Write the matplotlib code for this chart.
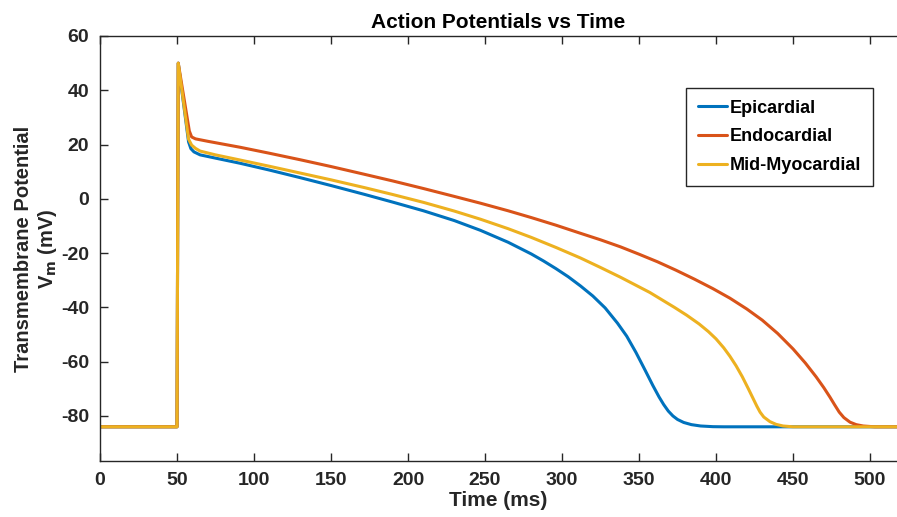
import numpy as np
import matplotlib
matplotlib.use("Agg")
import matplotlib.pyplot as plt

plt.rcParams['font.family'] = ['Liberation Sans', 'DejaVu Sans']
plt.rcParams['font.weight'] = 'bold'
plt.rcParams['axes.unicode_minus'] = False

#%% data (time in ms, potential in mV)
t_epi = [0, 50, 50.8, 57.5, 59, 61, 65, 75, 91, 110, 130, 150, 172, 190, 210, 230,
         247, 265, 280, 288, 296, 304, 312, 320, 328, 336, 342, 348, 354, 359, 363,
         366, 369, 372, 375, 379, 384, 390, 398, 405, 520]
v_epi = [-84, -84, 50, 21, 18.5, 17.3, 16.2, 15.0, 13.1, 10.6, 7.8, 4.9, 1.6, -1.2,
         -4.4, -8.0, -11.6, -16.0, -20.3, -22.9, -25.7, -28.7, -32.1, -35.8, -40.2,
         -45.8, -50.6, -56.6, -63.2, -68.8, -73.0, -75.8, -78.2, -80.0, -81.3, -82.4,
         -83.2, -83.7, -83.95, -84, -84]

t_endo = [0, 50, 50.8, 58, 59.5, 62, 70, 91, 110, 130, 150, 172, 190, 210, 230, 247,
          265, 280, 296, 312, 325, 338, 350, 362, 374, 386, 398, 409, 420, 430, 440,
          450, 458, 465, 470, 474, 477, 480, 483, 487, 491, 495.5, 503, 520]
v_endo = [-84, -84, 50, 25, 22.8, 22.1, 21.2, 19.0, 16.8, 14.4, 11.9, 9.0, 6.6, 3.8,
          0.9, -1.6, -4.4, -6.9, -9.7, -12.7, -15.1, -17.7, -20.4, -23.2, -26.3, -29.6,
          -33.1, -36.6, -40.6, -44.7, -49.6, -55.3, -60.5, -65.6, -69.6, -73.1, -75.9,
          -78.6, -80.6, -82.3, -83.2, -83.7, -84, -84]

t_mid = [0, 50, 50.8, 57.5, 59.5, 62, 65, 75, 91, 110, 130, 150, 172, 190, 210, 230,
         247, 265, 280, 296, 312, 325, 338, 357, 373, 381, 389, 395, 400, 405, 409,
         413, 417, 421, 424, 426.5, 428.6, 431, 435, 439, 443.5, 450, 520]
v_mid = [-84, -84, 50, 22, 19.8, 18.6, 17.6, 16.2, 14.3, 12.0, 9.5, 7.0, 4.1, 1.6,
         -1.3, -4.5, -7.5, -11.0, -14.2, -17.9, -21.8, -25.3, -28.9, -34.5, -40.0,
         -42.9, -46.1, -48.9, -51.6, -54.9, -58.0, -61.5, -65.5, -70.0, -73.5, -76.4,
         -78.6, -80.4, -82.1, -83.1, -83.7, -84, -84]

series = [("Epicardial", t_epi, v_epi, "#0072BD"),
          ("Endocardial", t_endo, v_endo, "#D95319"),
          ("Mid-Myocardial", t_mid, v_mid, "#EDB120")]

xticks = [0, 50, 100, 150, 200, 250, 300, 350, 400, 450, 500]
yticks = [-80, -60, -40, -20, 0, 20, 40, 60]

#%% plot
fig = plt.figure(figsize=(8.97, 5.17), dpi=100)
ax = fig.add_axes([100/897, 1 - 461/517, 797/897, 425/517])

for name, t, v, c in series:
    ax.plot(t, v, color=c, lw=2.2, label=name,
            solid_joinstyle='round', solid_capstyle='round')

ax.set_xlim(0, 517.5)
ax.set_ylim(-96.6, 60)
ax.set_xticks(xticks)
ax.set_yticks(yticks)

gray = '#262626'
for s in ['left', 'bottom', 'top']:
    ax.spines[s].set_color(gray)
    ax.spines[s].set_linewidth(1.0)
ax.spines['right'].set_visible(False)
ax.tick_params(direction='in', length=6, width=1, colors=gray, labelsize=14,
               top=True, right=False, pad=8)
for lab in ax.get_xticklabels() + ax.get_yticklabels():
    lab.set_fontweight('bold')

ax.set_title("Action Potentials vs Time", fontsize=15, fontweight='bold', pad=6)
ax.set_xlabel("Time (ms)", fontsize=15, fontweight='bold', color=gray, labelpad=1)
ax.set_ylabel("Transmembrane Potential\nV$_\\mathbf{m}$ (mV)", fontsize=14.5,
              fontweight='bold', color=gray, labelpad=1, linespacing=1.2)

leg = ax.legend(loc='upper left', bbox_to_anchor=(0.724, 0.899), fontsize=13,
                handlelength=1.6, handletextpad=0.15, borderpad=0.65,
                labelspacing=0.65, fancybox=False, framealpha=1)
leg.get_frame().set_edgecolor(gray)
leg.get_frame().set_linewidth(1.0)
for txt in leg.get_texts():
    txt.set_fontweight('bold')

fig.savefig("out.png", dpi=100)
